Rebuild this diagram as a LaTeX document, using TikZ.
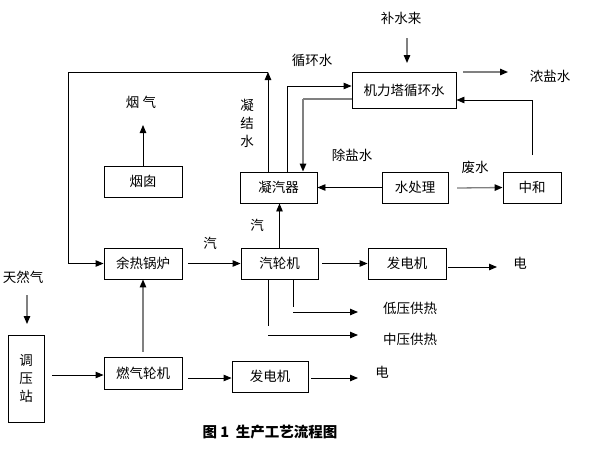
\documentclass[tikz,border=0pt]{standalone}
\usepackage{fontspec}
\setmainfont{Noto Sans CJK SC}
\usetikzlibrary{arrows.meta}
\begin{document}
\begin{tikzpicture}[x=1pt,y=-1pt,
  every node/.style={font=\fontsize{13.5pt}{15pt}\selectfont, inner sep=0pt},
  box/.style={draw, line width=0.9pt, minimum width=78pt, minimum height=31pt},
  arr/.style={line width=0.9pt, -{Triangle[length=8pt,width=6.5pt,color=black]}},
  ln/.style={line width=0.9pt},
  garr/.style={draw=black!50, line width=1.3pt, -{Triangle[length=8pt,width=6.5pt,color=black]}},
  gln/.style={draw=black!50, line width=1.3pt}]
\useasboundingbox (0,0) rectangle (596,448);
% boxes
\node[box] (yr) at (143,263.5) {余热锅炉};
\node[box] (yc) at (143,181.5) {烟囱};
\node[box, minimum width=77pt] (nq) at (278.5,187.5) {凝汽器};
\node[box, minimum width=104pt, minimum height=36pt] (jl) at (404,90) {机力塔循环水};
\node[box, minimum width=66pt] (sc) at (415,187.5) {水处理};
\node[box, minimum width=58pt] (zh) at (532,187.5) {中和};
\node[box, minimum width=77pt] (ql) at (279.5,263.5) {汽轮机};
\node[box] (fd1) at (407,263.5) {发电机};
\node[box, minimum width=36pt, minimum height=87pt, align=center] (ty) at (26,378.5) {调\\[3pt]压\\[3pt]站};
\node[box, minimum height=32pt] (rq) at (143,373) {燃气轮机};
\node[box, minimum width=76pt] (fd2) at (270,376.5) {发电机};
% labels
\node (lyq) at (141,102) {烟\ 气};
\node[align=center] (lnj) at (247,123) {凝\\[3pt]结\\[3pt]水};
\node (lxh) at (312,60) {循环水};
\node (lbs) at (401,18) {补水来};
\node (lns) at (550,76) {浓盐水};
\node (lcy) at (352,155) {除盐水};
\node (lfs) at (475,167) {废水};
\node (lq1) at (210,243) {汽};
\node (lq2) at (257,225) {汽};
\node (ld1) at (520,263) {电};
\node (ldy) at (410,308) {低压供热};
\node (lzy) at (410,339) {中压供热};
\node (ltr) at (23,277) {天然气};
\node (ld2) at (382,372) {电};
\node[font=\fontsize{14.5pt}{16pt}\selectfont\bfseries] (cap) at (270,432) {图 1\ \ 生产工艺流程图};
% coordinates
\coordinate (c1) at (268,72);
\coordinate (c2) at (68,72);
\coordinate (yqe) at (143,125);
\coordinate (h1) at (287,86);
\coordinate (h2) at (303,99);
\coordinate (bs1) at (407,38);
\coordinate (bs2) at (407,63);
\coordinate (ns1) at (463,72);
\coordinate (ns2) at (508,72);
\coordinate (zh1) at (532,155);
\coordinate (zh2) at (532,100);
\coordinate (fs1) at (457,188);
\coordinate (e1) at (448,267);
\coordinate (e2) at (497,267);
\coordinate (dy1) at (293,307);
\coordinate (dy2) at (293,312);
\coordinate (dy3) at (358,312);
\coordinate (zy1) at (268,326);
\coordinate (zy2) at (268,335);
\coordinate (zy3) at (358,335);
\coordinate (tr1) at (27,295);
\coordinate (tr2) at (27,324);
\coordinate (t1) at (52,375);
\coordinate (g1) at (188,378);
\coordinate (g2) at (311,378);
\coordinate (g3) at (358,378);
% connectors
\draw[arr] (nq.north -| c1) -- (c1);
\draw[arr] (c1) -- (c2) |- (yr.west);
\draw[arr] (yc.north) -- (yqe);
\draw[garr] ([yshift=5pt]rq.north) -- (yr.south);
\draw[arr] ([xshift=6pt]yr.east) -- (ql.west);
\draw[arr] (ql.north) -- (ql.north |- nq.south);
\draw[arr] ([xshift=4pt]ql.east) -- (fd1.west);
\draw[arr] (e1) -- (e2);
\draw[ln] (ql.south -| dy1) -- (dy1);
\draw[arr] (dy2) -- (dy3);
\draw[ln] (ql.south -| zy1) -- (zy1);
\draw[arr] (zy2) -- (zy3);
\draw[arr] (nq.north -| h1) -- (h1) -- (jl.west |- h1);
\draw[gln] (jl.west |- h2) -- (h2);
\draw[garr] (h2) -- (nq.north -| h2);
\draw[garr] (bs1) -- (bs2);
\draw[garr] (ns1) -- (ns2);
\draw[arr] (zh1) -- (zh2) -- (jl.east |- zh2);
\draw[arr] (sc.west) -- (nq.east);
\draw[garr] (fs1) -- (zh.west);
\draw[garr] (tr1) -- (tr2);
\draw[arr] (t1) -- (rq.west |- t1);
\draw[arr] (g1) -- (fd2.west |- g1);
\draw[arr] (g2) -- (g3);
\end{tikzpicture}
\end{document}
